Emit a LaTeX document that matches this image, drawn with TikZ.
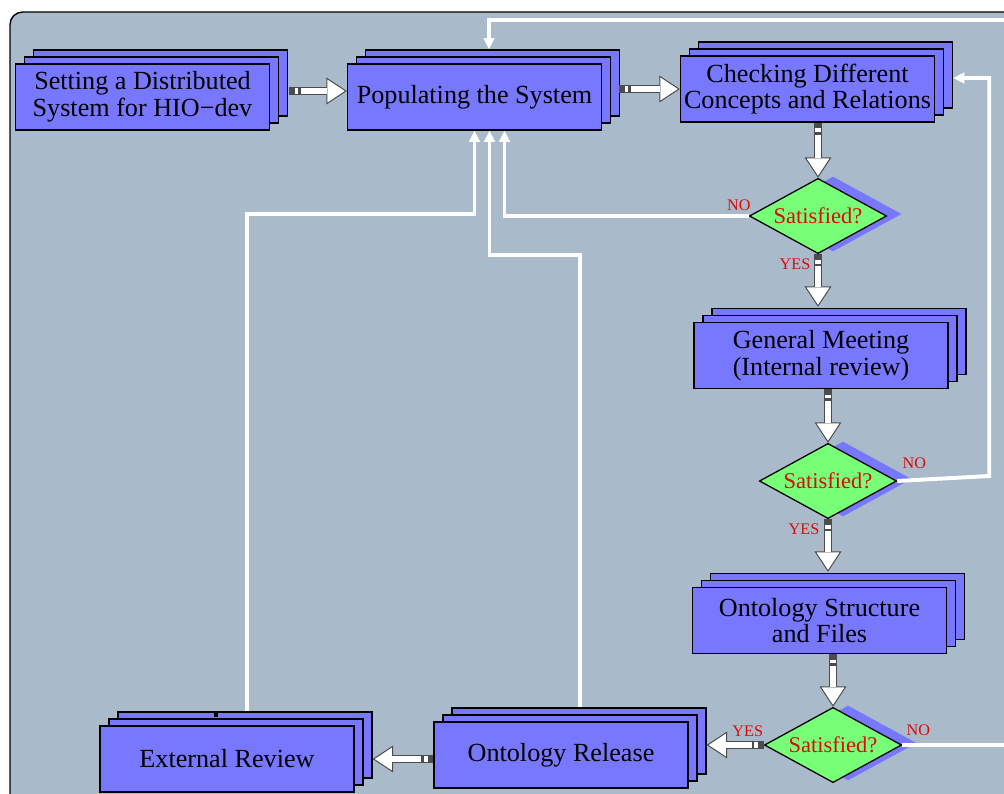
\documentclass[tikz,border=0pt]{standalone}
\usepackage{fontspec}
\setmainfont{Liberation Serif}
\usetikzlibrary{positioning, arrows.meta, shapes.geometric, calc, shadows}

\definecolor{panelgray}{RGB}{169,186,202}
\definecolor{stackblue}{RGB}{120,120,255}
\definecolor{decgreen}{RGB}{120,255,120}
\definecolor{answerred}{RGB}{220,10,10}

\tikzset{
  stackbox/.style={draw=black, fill=stackblue, line width=0.9pt,
    minimum width=6.35cm, minimum height=1.65cm, align=center, inner sep=2pt,
    font=\fontsize{18.6}{19}\selectfont,
    copy shadow={shadow xshift=0.45cm, shadow yshift=0.35cm, fill=stackblue, draw=black, line width=0.9pt},
    copy shadow={shadow xshift=0.225cm, shadow yshift=0.175cm, fill=stackblue, draw=black, line width=0.9pt}},
  decision/.style={diamond, aspect=1.8, draw=black, fill=decgreen, line width=0.9pt, inner sep=0pt,
    minimum width=3.43cm, minimum height=1.88cm, text=answerred, font=\fontsize{16}{18}\selectfont,
    general shadow={shadow xshift=0.375cm, shadow yshift=0.05cm, fill=stackblue}},
  yesno/.style={text=answerred, font=\fontsize{11.5}{12}\selectfont, inner sep=0pt},
  bigarrow/.style={draw=gray!60!black, line width=5.7pt,
    arrows={Rectangle[length=2.5pt,width=5pt] Rectangle[length=4pt,width=5.5pt,fill=white,line width=0.7pt,sep=0.8pt]-Triangle[length=14.5pt,width=19pt,fill=white,line width=0.7pt]},
    postaction={draw=white, line width=4.3pt, arrows=-, shorten <=8.5pt, shorten >=14pt}},
  loopline/.style={draw=white, line width=2.8pt, -{Triangle[length=8pt,width=7.5pt]}}
}

\begin{document}
\begin{tikzpicture}[x=0.025cm, y=-0.025cm]
  \useasboundingbox (0,0) rectangle (1004,794);
  \clip (0,0) rectangle (1004,794);
  \fill[white] (0,0) rectangle (1004,794);
  \draw[fill=panelgray, line width=1pt, rounded corners=9pt] (10,12) rectangle (1080,880);

  % process steps
  \node[stackbox] (setup) at (142.5,97) {Setting a Distributed\\System for HIO−dev};
  \node[stackbox] (populate) at (474.5,97) {Populating the System};
  \node[stackbox] (check) at (807.5,89) {Checking Different\\Concepts and Relations};
  \node[decision] (sat1) at (818,216) {Satisfied?};
  \node[stackbox] (meeting) at (821,355.5) {General Meeting\\(Internal review)};
  \node[decision] (sat2) at (828,481) {Satisfied?};
  \node[stackbox] (structure) at (819.5,620.5) {Ontology Structure\\and Files};
  \node[decision] (sat3) at (833,745) {Satisfied?};
  \node[stackbox] (release) at (561,755) {Ontology Release};
  \node[stackbox] (extreview) at (227,759) {External Review};
  \fill (214,713) rectangle (218,717);

  % feedback loops
  \draw[loopline] (sat1.west) -| ([xshift=0.75cm]populate.south);
  \draw[loopline] ($(release.north)+(19,-14)$) -- ++(0,-452) -| ([xshift=0.375cm]populate.south);
  \draw[loopline] ($(extreview.north)+(20,-14)$) -- ++(0,-497) -| (populate.south);
  \draw[loopline] (sat2.east) -- ++(92,-5) |- ($(check.east)+(18,-11)$);
  \draw[loopline] (sat3.east) -- ++(130,0) -- ++(0,-725) -| ($(populate.north)+(14.5,-14)$);

  % main flow
  \draw[bigarrow] ($(setup.east)+(19,-6)$) -- ($(populate.west)+(0,-6)$);
  \draw[bigarrow] ($(populate.east)+(17,-8)$) -- (check.west);
  \draw[bigarrow] (sat1.north |- check.south) -- (sat1.north);
  \draw[bigarrow] (sat1.south) -- ($(sat1.south |- meeting.north)+(0,-15)$);
  \draw[bigarrow] (sat2.north |- meeting.south) -- (sat2.north);
  \draw[bigarrow] (sat2.south) -- ($(sat2.south |- structure.north)+(0,-15)$);
  \draw[bigarrow] (sat3.north |- structure.south) -- (sat3.north);
  \draw[bigarrow] (sat3.west) -- ($(release.east |- sat3.west)+(18,0)$);
  \draw[bigarrow] (release.west |- extreview.east) -- ($(extreview.east)+(18,0)$);

  % answers
  \node[yesno] (no1) at ($(sat1.west)+(-10,-11)$) {NO};
  \node[yesno] (yes1) at ($(sat1.south)+(-23,10)$) {YES};
  \node[yesno] (no2) at ($(sat2.east)+(17,-18)$) {NO};
  \node[yesno] (yes2) at ($(sat2.south)+(-24,10)$) {YES};
  \node[yesno] (yes3) at ($(sat3.west)+(-16,-14)$) {YES};
  \node[yesno] (no3) at ($(sat3.east)+(16,-15)$) {NO};
\end{tikzpicture}
\end{document}
